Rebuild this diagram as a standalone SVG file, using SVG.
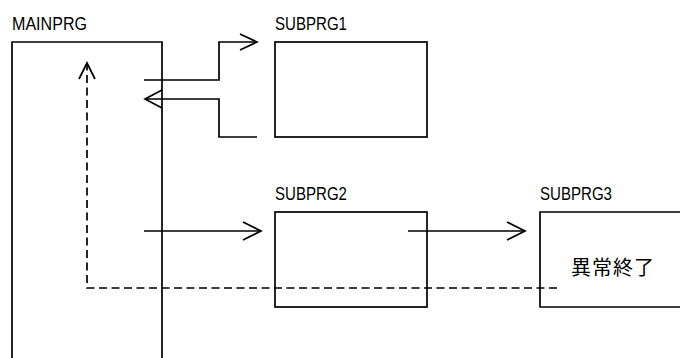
<svg xmlns="http://www.w3.org/2000/svg" width="680" height="358" viewBox="0 0 680 358">
<style>
.ln{fill:none;stroke:#000;stroke-width:1.7}
.ds{fill:none;stroke:#000;stroke-width:1.7;stroke-dasharray:8 4.5}
.lb{font-family:"Liberation Sans",Arial,sans-serif;font-size:18px;fill:#000}
.jp{font-family:"Noto Sans CJK JP","Noto Sans CJK SC",sans-serif;font-size:20px;fill:#000}
</style>
<rect width="680" height="358" fill="#fff"/>
<g id="mainprg">
<text class="lb" x="12" y="30" textLength="75" lengthAdjust="spacingAndGlyphs">MAINPRG</text>
<path class="ln" d="M12,358 V42 H162 V358"/>
</g>
<g id="subprg1">
<text class="lb" x="275" y="30" textLength="72" lengthAdjust="spacingAndGlyphs">SUBPRG1</text>
<rect class="ln" x="275" y="42" width="152" height="95"/>
</g>
<g id="subprg2">
<text class="lb" x="275" y="200" textLength="72" lengthAdjust="spacingAndGlyphs">SUBPRG2</text>
<rect class="ln" x="275" y="212" width="152" height="95"/>
</g>
<g id="subprg3">
<text class="lb" x="540" y="200" textLength="72" lengthAdjust="spacingAndGlyphs">SUBPRG3</text>
<path class="ln" d="M681,212 H540 V307 H681"/>
<text class="jp" x="613" y="275" text-anchor="middle" letter-spacing="1">異常終了</text>
</g>
<g id="connectors">
<path class="ln" d="M144,80 H219 V42 H257"/>
<path class="ln" d="M240,34 L257,42 L240,50"/>
<path class="ln" d="M257,137 H219 V99 H145"/>
<path class="ln" d="M162,90 L145,99 L162,108"/>
<path class="ln" d="M144,231 H261"/>
<path class="ln" d="M243,222 L261,231 L243,240"/>
<path class="ln" d="M408,231 H525"/>
<path class="ln" d="M507,222 L525,231 L507,240"/>
<path class="ds" d="M557,288 H87 V63"/>
<path class="ln" d="M79,79 L87,63 L95,79"/>
</g>
</svg>
